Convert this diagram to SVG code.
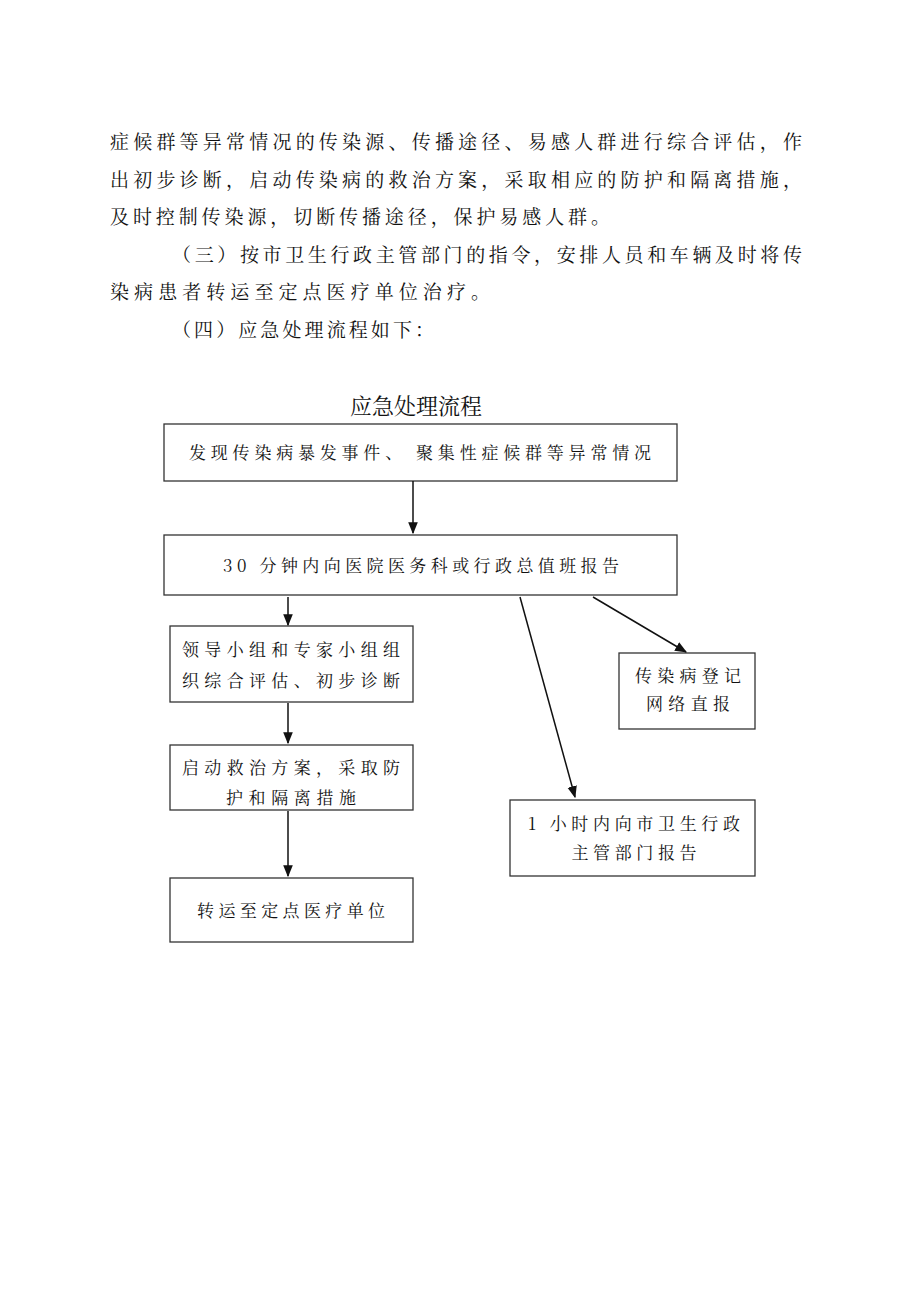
<svg xmlns="http://www.w3.org/2000/svg" width="920" height="1301" viewBox="0 0 920 1301">
<style>
text{font-family:"Noto Serif CJK SC","Noto Sans CJK SC",serif;fill:#111}
.p{font-size:19px}
.n{font-size:17px;text-anchor:middle}
.b{fill:#fff;stroke:#333;stroke-width:1.3}
.c{stroke:#111;stroke-width:1.5;fill:none;marker-end:url(#a)}
</style>
<defs><marker id="a" viewBox="0 0 10 10" refX="9" refY="5" markerWidth="8" markerHeight="8" orient="auto"><path d="M0,1L10,5L0,9z" fill="#111"/></marker></defs>
<rect width="920" height="1301" fill="#fff"/>
<text class="p" x="110" y="149" textLength="692" lengthAdjust="spacing">症候群等异常情况的传染源、传播途径、易感人群进行综合评估，作</text>
<text class="p" x="110" y="187" textLength="692" lengthAdjust="spacing">出初步诊断，启动传染病的救治方案，采取相应的防护和隔离措施，</text>
<text class="p" x="110" y="224" textLength="500" lengthAdjust="spacing">及时控制传染源，切断传播途径，保护易感人群。</text>
<text class="p" x="172" y="262" textLength="630" lengthAdjust="spacing">（三）按市卫生行政主管部门的指令，安排人员和车辆及时将传</text>
<text class="p" x="110" y="299" textLength="380" lengthAdjust="spacing">染病患者转运至定点医疗单位治疗。</text>
<text class="p" x="172" y="337" textLength="262" lengthAdjust="spacing">（四）应急处理流程如下：</text>
<text x="416" y="414" style="font-size:22px;text-anchor:middle">应急处理流程</text>
<g id="n1"><rect class="b" x="164" y="424" width="513" height="57"/><text class="n" x="420" y="459" textLength="462" lengthAdjust="spacing">发现传染病暴发事件、 聚集性症候群等异常情况</text></g>
<g id="n2"><rect class="b" x="164" y="535" width="513" height="60"/><text class="n" x="421" y="572" textLength="396" lengthAdjust="spacing">30 分钟内向医院医务科或行政总值班报告</text></g>
<g id="n3"><rect class="b" x="170" y="626" width="243" height="76"/><text class="n" x="291" y="656" textLength="218" lengthAdjust="spacing">领导小组和专家小组组</text><text class="n" x="291" y="687" textLength="218" lengthAdjust="spacing">织综合评估、初步诊断</text></g>
<g id="n4"><rect class="b" x="170" y="745" width="243" height="65"/><text class="n" x="291" y="774" textLength="218" lengthAdjust="spacing">启动救治方案，采取防</text><text class="n" x="291" y="804" textLength="130" lengthAdjust="spacing">护和隔离措施</text></g>
<g id="n5"><rect class="b" x="170" y="878" width="243" height="64"/><text class="n" x="291" y="917" textLength="188" lengthAdjust="spacing">转运至定点医疗单位</text></g>
<g id="n6"><rect class="b" x="619" y="653" width="136" height="76"/><text class="n" x="688" y="682" textLength="106" lengthAdjust="spacing">传染病登记</text><text class="n" x="688" y="710" textLength="84" lengthAdjust="spacing">网络直报</text></g>
<g id="n7"><rect class="b" x="510" y="800" width="245" height="76"/><text class="n" x="634" y="830" textLength="212" lengthAdjust="spacing">1 小时内向市卫生行政</text><text class="n" x="634" y="859" textLength="125" lengthAdjust="spacing">主管部门报告</text></g>
<g id="connectors">
<line class="c" x1="413" y1="481" x2="413" y2="533"/>
<line class="c" x1="288" y1="597" x2="288" y2="625"/>
<line class="c" x1="288" y1="703" x2="288" y2="743"/>
<line class="c" x1="288" y1="811" x2="288" y2="876"/>
<line class="c" x1="520" y1="597" x2="575" y2="797"/>
<line class="c" x1="593" y1="597" x2="686" y2="652"/>
</g>
</svg>
